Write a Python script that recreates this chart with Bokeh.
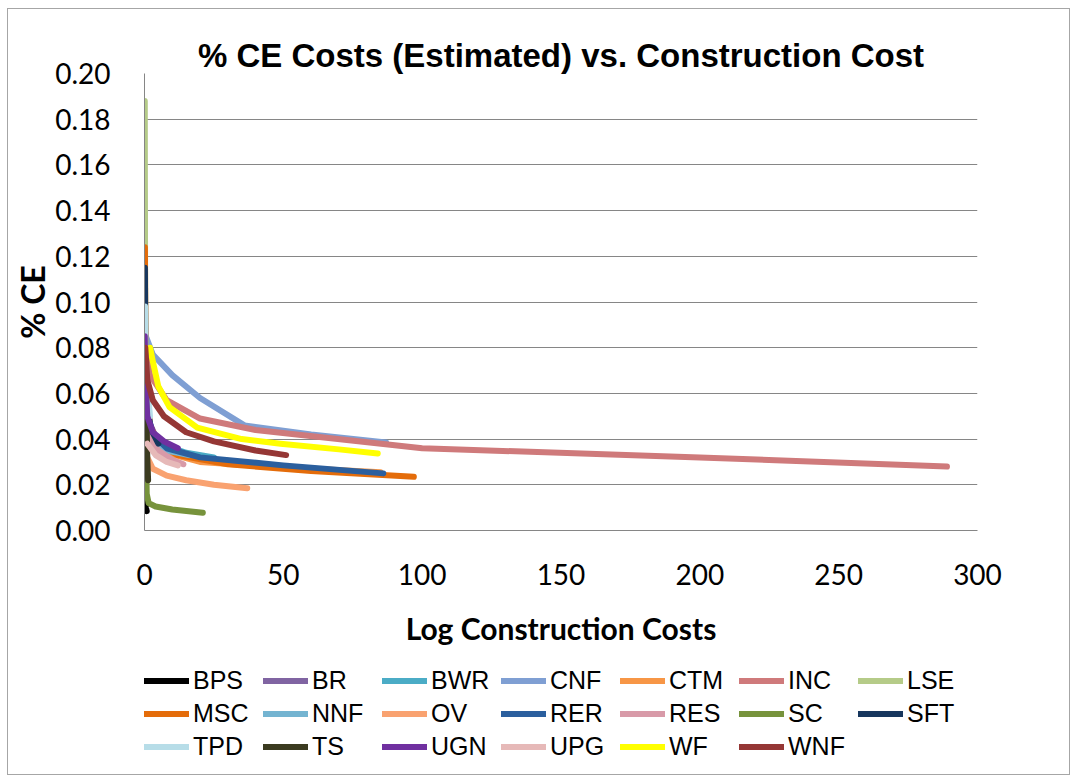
from bokeh.plotting import figure
from bokeh.layouts import column
from bokeh.models import Legend, LegendItem, NumeralTickFormatter, Range1d
from bokeh.embed import file_html
from bokeh.resources import INLINE

# ---- data -------------------------------------------------------------
x_ticks = [0, 50, 100, 150, 200, 250, 300]
y_ticks = [0.00, 0.02, 0.04, 0.06, 0.08, 0.10, 0.12, 0.14, 0.16, 0.18, 0.20]

names = ["BPS", "BR", "BWR", "CNF", "CTM", "INC", "LSE",
         "MSC", "NNF", "OV", "RER", "RES", "SC", "SFT",
         "TPD", "TS", "UGN", "UPG", "WF", "WNF"]
colors = ["#000000", "#8064A2", "#4BACC6", "#7F9FD3", "#F79646", "#CF7A7B", "#B5CB88",
          "#E46C0A", "#74B4D1", "#F9A270", "#2B5F9E", "#D89AA8", "#77933C", "#17375E",
          "#B7DDE8", "#3B3B20", "#7030A0", "#E6B9B8", "#FFFF00", "#953735"]

bps_x = [0.3, 0.5, 0.8]
bps_y = [0.0125, 0.010, 0.0085]
br_x = [0.2, 0.5, 1.5, 4, 8, 14]
br_y = [0.085, 0.060, 0.048, 0.041, 0.037, 0.034]
bwr_x = [0.3, 1, 3, 8, 15, 25]
bwr_y = [0.070, 0.050, 0.042, 0.037, 0.034, 0.032]
cnf_x = [0.5, 3, 10, 20, 36, 60, 87]
cnf_y = [0.085, 0.077, 0.068, 0.058, 0.046, 0.042, 0.0385]
ctm_x = [0.3, 1, 3, 8, 20, 45, 85]
ctm_y = [0.070, 0.050, 0.040, 0.034, 0.030, 0.028, 0.0255]
inc_x = [0.5, 2, 8, 20, 40, 100, 200, 289]
inc_y = [0.080, 0.068, 0.057, 0.049, 0.044, 0.036, 0.032, 0.028]
lse_x = [0.1, 0.15, 0.25, 0.4, 0.7, 1.0]
lse_y = [0.188, 0.150, 0.100, 0.060, 0.035, 0.025]
msc_x = [0.15, 0.3, 0.8, 2, 5, 12, 30, 60, 97]
msc_y = [0.124, 0.090, 0.060, 0.046, 0.038, 0.033, 0.029, 0.026, 0.0235]
nnf_x = [0.3, 1, 3, 8, 16]
nnf_y = [0.065, 0.048, 0.040, 0.035, 0.033]
ov_x = [1, 3, 8, 15, 25, 37]
ov_y = [0.032, 0.027, 0.024, 0.022, 0.020, 0.0185]
rer_x = [0.3, 1, 3, 8, 20, 50, 86]
rer_y = [0.075, 0.052, 0.042, 0.036, 0.032, 0.0285, 0.025]
res_x = [0.5, 2, 5, 10, 14]
res_y = [0.050, 0.040, 0.035, 0.031, 0.029]
sc_x = [0.6, 0.8, 1.5, 4, 10, 21]
sc_y = [0.035, 0.016, 0.012, 0.0105, 0.0092, 0.0078]
sft_x = [0.15, 0.3, 0.8, 2, 5]
sft_y = [0.115, 0.085, 0.060, 0.045, 0.038]
tpd_x = [0.2, 0.4, 0.8, 2]
tpd_y = [0.098, 0.080, 0.065, 0.050]
ts_x = [0.6, 0.8, 1.0, 1.3]
ts_y = [0.060, 0.045, 0.032, 0.022]
ugn_x = [0.1, 0.3, 1, 3, 7, 12]
ugn_y = [0.085, 0.065, 0.050, 0.043, 0.039, 0.036]
upg_x = [1, 4, 8, 12]
upg_y = [0.038, 0.033, 0.030, 0.0285]
wf_x = [2, 3, 5, 9, 19, 35, 49, 70, 84]
wf_y = [0.080, 0.074, 0.063, 0.054, 0.045, 0.040, 0.038, 0.0355, 0.0337]
wnf_x = [0.3, 1, 3, 7, 15, 25, 40, 51]
wnf_y = [0.080, 0.066, 0.057, 0.050, 0.043, 0.039, 0.035, 0.033]

series_x = [bps_x, br_x, bwr_x, cnf_x, ctm_x, inc_x, lse_x, msc_x, nnf_x, ov_x,
            rer_x, res_x, sc_x, sft_x, tpd_x, ts_x, ugn_x, upg_x, wf_x, wnf_x]
series_y = [bps_y, br_y, bwr_y, cnf_y, ctm_y, inc_y, lse_y, msc_y, nnf_y, ov_y,
            rer_y, res_y, sc_y, sft_y, tpd_y, ts_y, ugn_y, upg_y, wf_y, wnf_y]

# ---- main chart -------------------------------------------------------
p = figure(frame_width=833, frame_height=457, output_backend="svg", toolbar_location=None,
           x_range=Range1d(0, 300), y_range=Range1d(0, 0.2),
           min_border_left=136, min_border_right=92, min_border_top=64,
           min_border_bottom=125)
p.outline_line_color = None

p.title.text = "% CE Costs (Estimated) vs. Construction Cost"
p.title.align = "center"
p.title.text_font = "Liberation Sans"
p.title.text_font_style = "bold"
p.title.text_font_size = "33px"
p.title.text_color = "#000000"
p.title.standoff = 0

grid_col = "#868686"
for ax in (p.xaxis[0], p.yaxis[0]):
    ax.axis_line_color = grid_col
    ax.major_tick_line_color = None
    ax.minor_tick_line_color = None
    ax.major_tick_out = 0
    ax.major_tick_in = 0
    ax.minor_tick_out = 0
    ax.major_label_text_font = "Lato"
    ax.major_label_text_font_size = "28px"
    ax.major_label_text_color = "#000000"
    ax.axis_label_text_font = "Lato"
    ax.axis_label_text_font_style = "bold"
    ax.axis_label_text_color = "#000000"

p.xaxis.ticker = x_ticks
p.yaxis.ticker = y_ticks
p.yaxis.formatter = NumeralTickFormatter(format="0.00")
p.xaxis.axis_label = "Log Construction Costs"
p.yaxis.axis_label = "% CE"
p.xaxis.axis_label_text_font_size = "30px"
p.yaxis.axis_label_text_font_size = "32px"
p.xaxis.major_label_standoff = 33
p.xaxis.axis_label_standoff = 22
p.yaxis.major_label_standoff = 34
p.yaxis.axis_label_standoff = 0

p.xgrid.visible = False
p.ygrid.grid_line_color = grid_col
p.ygrid.grid_line_width = 1

for col, xs, ys in zip(colors, series_x, series_y):
    p.line(xs, ys, line_width=6, line_color=col, line_cap="round", line_join="round")

# ---- legend strip (frame aligned with the chart above) -----------------
lg = figure(width=1061, height=119, output_backend="svg", toolbar_location=None,
            x_range=Range1d(0, 1), y_range=Range1d(0, 1),
            x_axis_type=None, y_axis_type=None, min_border=0)
lg.outline_line_color = None
lg.grid.visible = False

nan = float("nan")
items = []
for nm, col in zip(names, colors):
    r = lg.line(x=[nan, nan], y=[nan, nan], line_width=6, line_color=col, line_cap="round")
    items.append(LegendItem(label=nm, renderers=[r]))

legend = Legend(items=items, location=(0, 12), ncols=7, orientation="horizontal",
                glyph_width=45, glyph_height=31, label_height=31, label_width=68,
                label_standoff=4, spacing=2, padding=0, margin=0,
                border_line_color=None, background_fill_alpha=0,
                inactive_fill_alpha=0,
                label_text_font="Liberation Sans", label_text_font_size="25px",
                label_text_color="#000000")
lg.add_layout(legend, "center")

layout = column(p, lg, spacing=0,
                styles={"margin-left": "7px", "margin-top": "8px",
                        "border": "1px solid #a6a6a6"})

open("out.html", "w").write(file_html(layout, INLINE))
